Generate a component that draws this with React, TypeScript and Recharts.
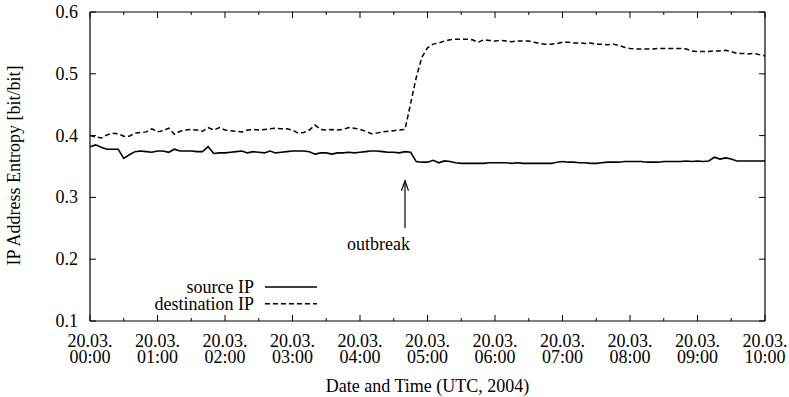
import { LineChart, Line, XAxis, YAxis, Legend, ReferenceLine } from 'recharts'

const FONT = "'Liberation Serif', 'DejaVu Serif', serif"

// 5-minute samples, 20.03.2004 00:00 - 10:00 UTC
const sourceIP = [
  0.382, 0.385, 0.381, 0.378, 0.378, 0.378, 0.363, 0.369, 0.374, 0.375,
  0.374, 0.373, 0.375, 0.375, 0.373, 0.378, 0.375, 0.375, 0.375, 0.374,
  0.374, 0.382, 0.371, 0.372, 0.372, 0.373, 0.374, 0.375, 0.372, 0.374,
  0.373, 0.372, 0.375, 0.372, 0.373, 0.374, 0.375, 0.375, 0.375, 0.374,
  0.370, 0.372, 0.372, 0.370, 0.372, 0.372, 0.373, 0.372, 0.373, 0.374,
  0.375, 0.375, 0.374, 0.373, 0.373, 0.372, 0.374, 0.373, 0.358, 0.357,
  0.357, 0.360, 0.356, 0.359, 0.358, 0.356, 0.355, 0.355, 0.355, 0.355,
  0.355, 0.356, 0.356, 0.356, 0.356, 0.355, 0.356, 0.355, 0.355, 0.355,
  0.355, 0.355, 0.355, 0.357, 0.358, 0.357, 0.357, 0.356, 0.356, 0.355,
  0.355, 0.356, 0.357, 0.357, 0.357, 0.358, 0.358, 0.358, 0.358, 0.357,
  0.357, 0.357, 0.358, 0.358, 0.358, 0.358, 0.359, 0.358, 0.359, 0.358,
  0.359, 0.365, 0.362, 0.364, 0.362, 0.359, 0.359, 0.359, 0.359, 0.359,
  0.359,
]

const destinationIP = [
  0.400, 0.398, 0.396, 0.401, 0.404, 0.403, 0.399, 0.399, 0.404, 0.405,
  0.406, 0.411, 0.406, 0.408, 0.412, 0.402, 0.407, 0.409, 0.410, 0.409,
  0.407, 0.413, 0.409, 0.413, 0.409, 0.408, 0.407, 0.406, 0.409, 0.410,
  0.409, 0.410, 0.411, 0.412, 0.411, 0.411, 0.409, 0.404, 0.405, 0.409,
  0.417, 0.410, 0.409, 0.410, 0.409, 0.410, 0.413, 0.412, 0.410, 0.407,
  0.403, 0.404, 0.406, 0.407, 0.408, 0.409, 0.410, 0.452, 0.494, 0.527,
  0.542, 0.548, 0.550, 0.553, 0.555, 0.556, 0.556, 0.556, 0.555, 0.551,
  0.555, 0.554, 0.553, 0.554, 0.553, 0.552, 0.553, 0.553, 0.553, 0.551,
  0.549, 0.548, 0.548, 0.549, 0.551, 0.551, 0.550, 0.550, 0.549, 0.550,
  0.548, 0.548, 0.547, 0.548, 0.546, 0.543, 0.541, 0.540, 0.540, 0.540,
  0.540, 0.541, 0.541, 0.541, 0.541, 0.541, 0.540, 0.537, 0.536, 0.536,
  0.536, 0.537, 0.537, 0.538, 0.536, 0.533, 0.533, 0.532, 0.533, 0.531,
  0.529,
]

const seriesNames = ['source IP', 'destination IP']
const minutes = sourceIP.map((_, i) => i * 5)
const xTicks = [0, 30, 60, 90, 120, 150, 180, 210, 240, 270, 300, 330, 360, 390, 420, 450, 480, 510, 540, 570, 600]
const yTicks = [0.1, 0.2, 0.3, 0.4, 0.5, 0.6]
const dateLabel = '20.03.'
const outbreakAt = 280
const outbreakArrow = [0.25, 0.327]

const data = minutes.map((t, i) => ({ t, source: sourceIP[i], destination: destinationIP[i] }))

const hourLabel = (m: number) => `${String(m / 60).padStart(2, '0')}:00`

function BottomTick({ x, y, payload }: any) {
  const major = payload.value % 60 === 0
  return (
    <g>
      <line x1={x} y1={y} x2={x} y2={y - (major ? 6 : 3)} stroke="#000" strokeWidth={1} />
      {major && (
        <text textAnchor="middle" fontSize={18} fontFamily={FONT} fill="#000">
          <tspan x={x} y={y + 26}>{dateLabel}</tspan>
          <tspan x={x} y={y + 42}>{hourLabel(payload.value)}</tspan>
        </text>
      )}
    </g>
  )
}

function TopTick({ x, y, payload }: any) {
  const major = payload.value % 60 === 0
  return <line x1={x} y1={y} x2={x} y2={y + (major ? 6 : 3)} stroke="#000" strokeWidth={1} />
}

function LeftTick({ x, y, payload }: any) {
  return (
    <g>
      <line x1={x} y1={y} x2={x + 6} y2={y} stroke="#000" strokeWidth={1} />
      <text x={x - 12} y={y + 6} textAnchor="end" fontSize={18} fontFamily={FONT} fill="#000">
        {payload.value.toFixed(1)}
      </text>
    </g>
  )
}

function RightTick({ x, y }: any) {
  return <line x1={x} y1={y} x2={x - 6} y2={y} stroke="#000" strokeWidth={1} />
}

function YTitle({ viewBox }: any) {
  const cx = viewBox.x + viewBox.width - 70
  const cy = viewBox.y + viewBox.height / 2 - 1
  return (
    <text x={cx} y={cy} transform={`rotate(-90 ${cx} ${cy})`} textAnchor="middle" fontSize={18} fontFamily={FONT} fill="#000">
      IP Address Entropy [bit/bit]
    </text>
  )
}

function XTitle({ viewBox }: any) {
  return (
    <text x={viewBox.x + viewBox.width / 2} y={viewBox.y + 71} textAnchor="middle" fontSize={18} fontFamily={FONT} fill="#000">
      Date and Time (UTC, 2004)
    </text>
  )
}

function Arrow({ x1, y1, x2, y2 }: any) {
  return (
    <g>
      <line x1={x1} y1={y1} x2={x2} y2={y2} stroke="#000" strokeWidth={1.2} />
      <polyline points={`${x2 - 3.5},${y2 + 10} ${x2},${y2} ${x2 + 3.5},${y2 + 10}`} fill="none" stroke="#000" strokeWidth={1.2} />
      <text x={x1 + 5} y={y1 + 22} textAnchor="end" fontSize={18} fontFamily={FONT} fill="#000">
        outbreak
      </text>
    </g>
  )
}

function LegendBox({ payload }: any) {
  const items = seriesNames
    .map((n) => (payload || []).find((e: any) => e.value === n))
    .filter(Boolean)
  return (
    <svg width={330} height={46}>
      {items.map((e: any, i: number) => (
        <g key={e.value}>
          <text x={254} y={23 + i * 16.7} textAnchor="end" fontSize={18} fontFamily={FONT} fill="#000">
            {e.value}
          </text>
          <line
            x1={265} x2={317} y1={17 + i * 16.7} y2={17 + i * 16.7}
            stroke="#000" strokeWidth={1.6}
            strokeDasharray={e.payload?.strokeDasharray}
          />
        </g>
      ))}
    </svg>
  )
}

export default function App() {
  return (
    <div style={{ position: 'absolute', left: 0, top: 0, background: '#fff' }}>
      <LineChart width={789} height={397} data={data} margin={{ top: 11, right: 23, bottom: 75, left: 89 }}>
        <XAxis
          dataKey="t" type="number" domain={[0, 600]} ticks={xTicks} interval={0} allowDataOverflow
          height={1} tickSize={0} tickMargin={0} tickLine={false}
          axisLine={{ stroke: '#000', strokeWidth: 1.2 }}
          tick={<BottomTick />}
          label={{ content: <XTitle /> }}
        />
        <XAxis
          xAxisId="top" orientation="top" dataKey="t" type="number" domain={[0, 600]} allowDataOverflow
          ticks={xTicks} interval={0} height={1} tickSize={0} tickMargin={0} tickLine={false}
          axisLine={{ stroke: '#000', strokeWidth: 1.2 }}
          tick={<TopTick />}
        />
        <YAxis
          type="number" domain={[0.1, 0.6]} ticks={yTicks} interval={0} allowDataOverflow
          width={1} tickSize={0} tickMargin={0} tickLine={false}
          axisLine={{ stroke: '#000', strokeWidth: 1.2 }}
          tick={<LeftTick />}
          label={{ content: <YTitle /> }}
        />
        <YAxis
          yAxisId="right" orientation="right" type="number" domain={[0.1, 0.6]} ticks={yTicks} interval={0} allowDataOverflow
          width={1} tickSize={0} tickMargin={0} tickLine={false}
          axisLine={{ stroke: '#000', strokeWidth: 1.2 }}
          tick={<RightTick />}
        />
        <Legend
          layout="vertical" align="center" verticalAlign="middle"
          wrapperStyle={{ left: 0, top: 270, width: 330, height: 46 }}
          content={<LegendBox />}
        />
        <ReferenceLine
          segment={[{ x: outbreakAt, y: outbreakArrow[0] }, { x: outbreakAt, y: outbreakArrow[1] }]}
          stroke="#000"
          shape={(p: any) => <Arrow {...p} />}
        />
        <Line name="source IP" dataKey="source" type="linear" stroke="#000" strokeWidth={1.6} dot={false} isAnimationActive={false} />
        <Line name="destination IP" dataKey="destination" type="linear" stroke="#000" strokeWidth={1.5} strokeDasharray="5 3" dot={false} isAnimationActive={false} />
      </LineChart>
    </div>
  )
}
